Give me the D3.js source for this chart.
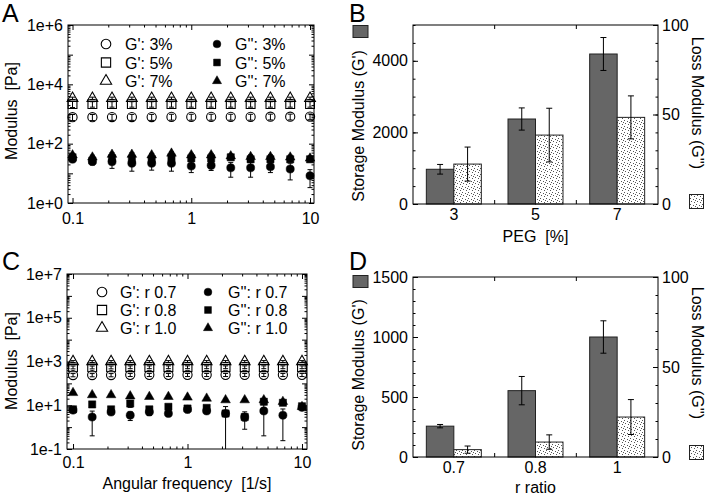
<!DOCTYPE html>
<html><head><meta charset="utf-8">
<script src="https://cdn.jsdelivr.net/npm/d3@7"></script>
<style>body{margin:0;background:#fff} svg{display:block} text{white-space:pre}</style>
</head><body><svg id="c" width="708" height="498"></svg>
<script>
// ---------------- DATA ----------------
const freqs = [0.1, 0.147, 0.215, 0.316, 0.464, 0.681, 1, 1.47, 2.15, 3.16, 4.64, 6.81, 10];

// Panel A (PEG %)
const aLegend = ["G': 3%", "G': 5%", "G': 7%", "G'': 3%", "G'': 5%", "G'': 7%"];
const aGp3 = [780, 780, 790, 790, 790, 800, 800, 800, 800, 800, 810, 810, 820];
const aGp3Err = [180, 180, 180, 180, 180, 180, 180, 180, 180, 180, 180, 180, 180];
const aGp5 = [2150, 2150, 2150, 2150, 2150, 2150, 2150, 2150, 2150, 2150, 2150, 2150, 2150];
const aGp5Err = [500, 450, 450, 450, 450, 450, 450, 450, 450, 450, 450, 450, 450];
const aGp7 = [3400, 3400, 3400, 3400, 3400, 3400, 3400, 3400, 3400, 3400, 3400, 3400, 3400];
const aGp7Err = [300, 300, 300, 300, 300, 300, 300, 300, 300, 300, 300, 300, 300];
const aGpp3 = [30, 25, 24.7, 21.8, 21.8, 21.8, 17.6, 18.5, 15.4, 15.4, 16.6, 14, 8.3];
const aGpp3Err = [4, 6, 10, 10, 9, 10, 7, 6, 8, 8, 6, 8, 5];
const aGpp5 = [34.7, 27, 32, 29.7, 29.7, 34.7, 32, 32, 34.7, 29.7, 29.7, 29.7, 29.7];
const aGpp5Err = [5, 5, 5, 5, 5, 5, 5, 5, 5, 5, 5, 5, 5];
const aGpp7 = [41, 34.7, 43, 43, 41, 47, 41, 41, 38, 36, 36, 34.7, 32];
const aGpp7Err = [6, 6, 6, 6, 6, 6, 6, 6, 6, 6, 6, 6, 6];

// Panel C (r ratio)
const cLegend = ["G': r 0.7", "G': r 0.8", "G': r 1.0", "G'': r 0.7", "G'': r 0.8", "G'': r 1.0"];
const cGp07 = [240, 240, 240, 245, 245, 245, 245, 245, 245, 245, 245, 245, 245];
const cGp07Err = [40, 40, 40, 40, 40, 40, 40, 40, 40, 40, 40, 40, 40];
const cGp08 = [540, 540, 540, 550, 550, 550, 550, 550, 550, 550, 550, 550, 550];
const cGp08Err = [80, 80, 80, 80, 80, 80, 80, 80, 80, 80, 80, 80, 80];
const cGp10 = [1000, 1000, 1000, 1000, 1000, 1000, 1000, 1000, 1000, 1000, 1000, 1000, 1000];
const cGp10Err = [100, 100, 100, 100, 100, 100, 100, 100, 100, 100, 100, 100, 100];
const cGpp07 = [6, 2.9, 4.9, 3.5, 4.9, 4.2, 6.5, 5.5, 4.2, 2.9, 5.5, 3.5, 8];
const cGpp07Err = [0.5, 2.5, 1, 1.5, 1.5, 0.5, 2, 1, 1, 1, 5.1, 3.26, 1];
const cGpp08 = [6.5, 10.9, 6.5, 12, 6.5, 8.5, 7.1, 7.6, 4.2, 2.9, 14.5, 13, 9];
const cGpp08Err = [1, 2, 1, 4, 1, 1.5, 1.5, 1.5, 4.5, 2.1, 2, 2, 1];
const cGpp10 = [37, 29.5, 29.5, 26, 24.5, 24.5, 23, 20.5, 17.3, 17.3, 17.3, 14.5, 8.5];
const cGpp10Err = [2, 2, 2, 2, 2, 2, 2, 2, 2, 2, 2, 2, 2];

// Panel B (bars vs PEG)
const pegCats = ["3", "5", "7"];
const bGp = [970, 2374, 4190];
const bGpErr = [135, 310, 460];
const bGpp = [22.3, 38.5, 48.4];
const bGppErr = [9.5, 15, 12];
const bLeftTicks = [0, 2000, 4000];

// Panel D (bars vs r ratio)
const rCats = ["0.7", "0.8", "1"];
const dGp = [257, 553, 1000];
const dGpErr = [14, 118, 135];
const dGpp = [4.1, 8.3, 22.2];
const dGppErr = [2, 4, 9.7];
const dLeftTicks = [0, 500, 1000, 1500];
const rightTicks = [0, 50, 100];

// ---------------- DRAWING ----------------
const FONT = '"Liberation Sans", Arial, Helvetica, sans-serif';
const svg = d3.select("#c").style("font-family", FONT);
const defs = svg.append("defs");
const pat = defs.append("pattern").attr("id", "stip").attr("patternUnits", "userSpaceOnUse")
  .attr("width", 6).attr("height", 6);
pat.append("rect").attr("width", 6).attr("height", 6).attr("fill", "#fff");
[[0,0],[3,1],[1,3],[4,4],[5,2]].forEach(([px,py]) =>
  pat.append("rect").attr("x", px).attr("y", py).attr("width", 1).attr("height", 1).attr("fill", "#555"));

function ax(g, axisFn, scale, vals, size, fmt, pad, tr) {
  const a = g.append("g").attr("transform", tr)
    .call(axisFn(scale).tickValues(vals).tickSize(size).tickPadding(pad).tickFormat(fmt));
  a.select(".domain").remove();
  a.attr("font-size", 16).attr("font-family", FONT);
  a.selectAll("line").attr("stroke", "#000");
  a.selectAll("text").attr("fill", "#000");
  return a;
}
function letter(t, x, y) {
  svg.append("text").attr("x", x).attr("y", y).attr("font-size", 25).text(t);
}
function rotTitle(t, x, y, ang) {
  svg.append("text").attr("transform", `translate(${x},${y}) rotate(${ang})`)
    .attr("xml:space", "preserve")
    .attr("text-anchor", "middle").attr("font-size", 16).text(t);
}

function logPanel(p) {
  const g = svg.append("g");
  const x = d3.scaleLog().domain(p.xDom).range([p.x0, p.x1]);
  const y = d3.scaleLog().domain(p.yDom).range([p.y1, p.y0]);
  const xMaj = [0.1, 1, 10];
  const xMin = [];
  [0.1, 1].forEach(b => { for (let k = 2; k < 10; k++) xMin.push(b * k); });
  const yMaj = d3.range(p.yExp[0], p.yExp[1] + 1).map(e => Math.pow(10, e));
  const yMin = [];
  for (let e = p.yExp[0]; e < p.yExp[1]; e++) for (let k = 2; k < 10; k++) yMin.push(k * Math.pow(10, e));
  const yFmt = d => {
    const e = Math.round(Math.log10(d));
    return p.yLab.includes(e) ? "1e" + (e >= 0 ? "+" : "") + e : "";
  };
  ax(g, d3.axisBottom, x, xMaj, -5, d3.format("~g"), p.xPad, `translate(0,${p.y1})`);
  ax(g, d3.axisBottom, x, xMin, -2.5, "", 0, `translate(0,${p.y1})`);
  ax(g, d3.axisTop, x, xMaj, -5, "", 0, `translate(0,${p.y0})`);
  ax(g, d3.axisTop, x, xMin, -2.5, "", 0, `translate(0,${p.y0})`);
  ax(g, d3.axisLeft, y, yMaj, -5, yFmt, 5, `translate(${p.x0},0)`);
  ax(g, d3.axisLeft, y, yMin, -2.5, "", 0, `translate(${p.x0},0)`);
  ax(g, d3.axisRight, y, yMaj, -5, "", 0, `translate(${p.x1},0)`);
  ax(g, d3.axisRight, y, yMin, -2.5, "", 0, `translate(${p.x1},0)`);
  g.append("rect").attr("x", p.x0).attr("y", p.y0).attr("width", p.x1 - p.x0).attr("height", p.y1 - p.y0)
    .attr("fill", "none").attr("stroke", "#000");

  const dg = g.append("g");
  p.series.forEach(s => {
    freqs.forEach((f, i) => {
      const v = s.v[i], e = s.e[i];
      const cx = x(f);
      const lo = v - e, hi = v + e;
      const yHi = y(hi);
      const loOk = lo > p.yDom[0];
      const yLo = loOk ? y(lo) : p.y1;
      dg.append("line").attr("x1", cx).attr("x2", cx).attr("y1", yHi).attr("y2", yLo).attr("stroke", "#000");
      dg.append("line").attr("x1", cx - 2.5).attr("x2", cx + 2.5).attr("y1", yHi).attr("y2", yHi).attr("stroke", "#000");
      if (loOk) dg.append("line").attr("x1", cx - 2.5).attr("x2", cx + 2.5).attr("y1", yLo).attr("y2", yLo).attr("stroke", "#000");
    });
  });
  p.series.forEach(s => {
    dg.selectAll(null).data(freqs).join("path")
      .attr("transform", (f, i) => `translate(${x(f)},${y(s.v[i])})`)
      .attr("d", d3.symbol().type(s.type).size(s.size))
      .attr("fill", s.fill).attr("stroke", "#000").attr("stroke-width", s.fill === "none" ? 1.1 : 0.5);
  });
  // legend
  const lg = g.append("g");
  p.legend.forEach((t, i) => {
    const col = Math.floor(i / 3), row = i % 3;
    const s = p.series[i];
    const my = p.legY[row];
    lg.append("path").attr("transform", `translate(${p.legMX[col]},${my})`)
      .attr("d", d3.symbol().type(s.type).size(s.size * (s.fill === "none" ? 1.1 : 0.9)))
      .attr("fill", s.fill).attr("stroke", "#000").attr("stroke-width", s.fill === "none" ? 1.1 : 0.5);
    lg.append("text").attr("x", p.legTX[col]).attr("y", my + 6).attr("font-size", 16).text(t);
  });
}

const OPEN_C = {type: d3.symbolCircle, size: 66, fill: "none"};
const OPEN_S = {type: d3.symbolSquare, size: 78, fill: "none"};
const OPEN_T = {type: d3.symbolTriangle, size: 50, fill: "none"};
const FILL_C = {type: d3.symbolCircle, size: 52, fill: "#000"};
const FILL_S = {type: d3.symbolSquare, size: 52, fill: "#000"};
const FILL_T = {type: d3.symbolTriangle, size: 40, fill: "#000"};

logPanel({
  x0: 68, x1: 314, y0: 25, y1: 203, xDom: [0.0916, 10.8], yDom: [1, 1e6], yExp: [0, 6], yLab: [0, 2, 4, 6], xPad: 10,
  series: [
    {...OPEN_C, v: aGp3, e: aGp3Err}, {...OPEN_S, v: aGp5, e: aGp5Err}, {...OPEN_T, v: aGp7, e: aGp7Err},
    {...FILL_C, v: aGpp3, e: aGpp3Err}, {...FILL_S, v: aGpp5, e: aGpp5Err}, {...FILL_T, v: aGpp7, e: aGpp7Err}
  ],
  legend: aLegend, legY: [44, 62.5, 81], legMX: [106, 217], legTX: [125, 235]
});
logPanel({
  x0: 67, x1: 307, y0: 274, y1: 449, xDom: [0.0886, 11.06], yDom: [0.1, 1e7], yExp: [-1, 7], yLab: [-1, 1, 3, 5, 7], xPad: 8,
  series: [
    {...OPEN_C, v: cGp07, e: cGp07Err}, {...OPEN_S, v: cGp08, e: cGp08Err}, {...OPEN_T, v: cGp10, e: cGp10Err},
    {...FILL_C, v: cGpp07, e: cGpp07Err}, {...FILL_S, v: cGpp08, e: cGpp08Err}, {...FILL_T, v: cGpp10, e: cGpp10Err}
  ],
  legend: cLegend, legY: [292, 310, 328], legMX: [102, 208], legTX: [120, 228]
});

function barPanel(p) {
  const g = svg.append("g");
  const x = d3.scaleBand().domain(p.cats).range([p.x0, p.x1]);
  const xs = d3.scaleBand().domain(["gp", "gpp"]).range([0, x.bandwidth()]).paddingOuter(0.485);
  const yl = d3.scaleLinear().domain([0, p.lMax]).range([p.y1, p.y0]);
  const yr = d3.scaleLinear().domain([0, 100]).range([p.y1, p.y0]);
  const bw = xs.bandwidth();
  g.selectAll(null).data(p.cats).join("rect")
    .attr("x", c => x(c) + xs("gp")).attr("width", bw)
    .attr("y", (c, i) => yl(p.gp[i])).attr("height", (c, i) => yl(0) - yl(p.gp[i]))
    .attr("fill", "#666").attr("stroke", "#222");
  g.selectAll(null).data(p.cats).join("rect")
    .attr("x", c => x(c) + xs("gpp")).attr("width", bw)
    .attr("y", (c, i) => yr(p.gpp[i])).attr("height", (c, i) => yr(0) - yr(p.gpp[i]))
    .attr("fill", "url(#stip)").attr("stroke", "#222");
  const eb = (cx, a, b) => {
    g.append("line").attr("x1", cx).attr("x2", cx).attr("y1", a).attr("y2", b).attr("stroke", "#000");
    [a, b].forEach(yy => g.append("line").attr("x1", cx - 3).attr("x2", cx + 3).attr("y1", yy).attr("y2", yy).attr("stroke", "#000"));
  };
  p.cats.forEach((c, i) => {
    eb(x(c) + xs("gp") + bw / 2, yl(p.gp[i] + p.gpErr[i]), yl(p.gp[i] - p.gpErr[i]));
    eb(x(c) + xs("gpp") + bw / 2, yr(p.gpp[i] + p.gppErr[i]), yr(p.gpp[i] - p.gppErr[i]));
  });
  // axes
  ax(g, d3.axisBottom, x, p.cats, 0, d => d, 5, `translate(0,${p.y1})`);
  const bnd = p.cats.slice(1).map(c => x(c));
  bnd.forEach(bx => {
    g.append("line").attr("x1", bx).attr("x2", bx).attr("y1", p.y1).attr("y2", p.y1 - 4).attr("stroke", "#000");
    g.append("line").attr("x1", bx).attr("x2", bx).attr("y1", p.y0).attr("y2", p.y0 + 4).attr("stroke", "#000");
  });
  ax(g, d3.axisLeft, yl, p.lTicks, -5, d3.format("d"), 5, `translate(${p.x0},0)`);
  ax(g, d3.axisLeft, yl, d3.range(0, p.lMax + 1, p.lMinor), -2.5, "", 0, `translate(${p.x0},0)`);
  ax(g, d3.axisRight, yr, rightTicks, -5, d3.format("d"), 4, `translate(${p.x1},0)`);
  ax(g, d3.axisRight, yr, d3.range(0, 101, 10), -2.5, "", 0, `translate(${p.x1},0)`);
  g.append("rect").attr("x", p.x0).attr("y", p.y0).attr("width", p.x1 - p.x0).attr("height", p.y1 - p.y0)
    .attr("fill", "none").attr("stroke", "#000");
  // titles + swatches
  svg.append("text").attr("x", (p.x0 + p.x1) / 2).attr("y", p.xTitleY).attr("text-anchor", "middle")
    .attr("xml:space", "preserve").attr("font-size", 16).text(p.xTitle);
  rotTitle("Storage Modulus (G')", 364, p.lTitleY, -90);
  rotTitle("Loss Modulus (G'')", 692, p.rTitleY, 90);
  svg.append("rect").attr("x", 353).attr("y", p.sw1Y).attr("width", 15).attr("height", 12)
    .attr("fill", "#666").attr("stroke", "#222");
  svg.append("rect").attr("x", 689.5).attr("y", p.sw2Y).attr("width", 14).attr("height", 14)
    .attr("fill", "url(#stip)").attr("stroke", "#222");
}

barPanel({x0: 413, x1: 658, y0: 25, y1: 204, cats: pegCats, gp: bGp, gpErr: bGpErr, gpp: bGpp, gppErr: bGppErr,
  lMax: 5000, lTicks: bLeftTicks, lMinor: 500, xTitle: "PEG  [%]", xTitleY: 242,
  lTitleY: 126, rTitleY: 103, sw1Y: 25.5, sw2Y: 194.5});
barPanel({x0: 413, x1: 658, y0: 277, y1: 457, cats: rCats, gp: dGp, gpErr: dGpErr, gpp: dGpp, gppErr: dGppErr,
  lMax: 1500, lTicks: dLeftTicks, lMinor: 100, xTitle: "r ratio", xTitleY: 493,
  lTitleY: 375, rTitleY: 353, sw1Y: 275.5, sw2Y: 445.5});

// axis titles of log panels
rotTitle("Modulus  [Pa]", 17, 111, -90);
rotTitle("Modulus  [Pa]", 17, 361, -90);
svg.append("text").attr("x", 187).attr("y", 489).attr("text-anchor", "middle").attr("font-size", 16)
  .attr("xml:space", "preserve").text("Angular frequency  [1/s]");

letter("A", 2, 22);
letter("B", 349, 22);
letter("C", 2, 270);
letter("D", 349, 270);
</script>
</body></html>
